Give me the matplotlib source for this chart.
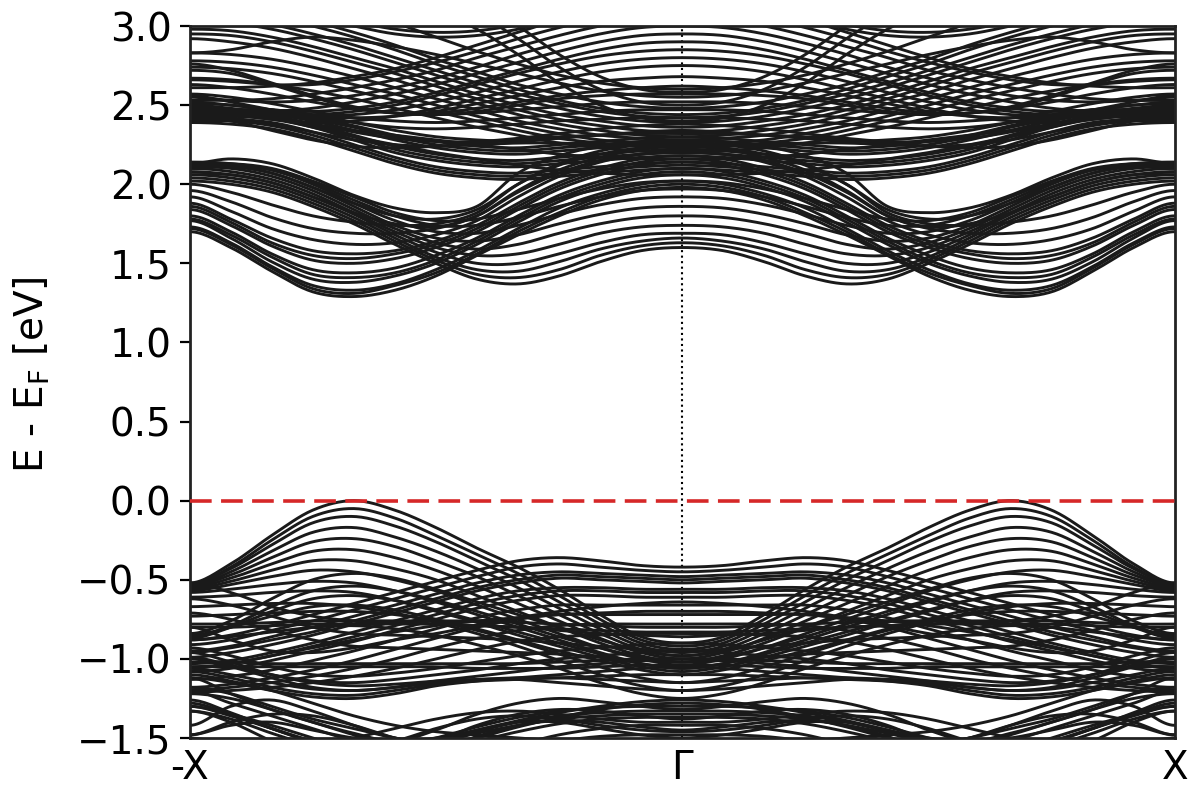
import numpy as np
import matplotlib
matplotlib.use("Agg")
import matplotlib.pyplot as plt

# ---------------- data (energies in eV) ----------------
# Each band is listed at 13 k-points from Gamma (k=0) to X (k=1), step 1/12.
# The path -X -> Gamma -> X is symmetric, so the left half mirrors the right.
K_TICKS = [-1.0, 0.0, 1.0]
K_LABELS = ["-X", "\u0393", "X"]
Y_TICKS = [-1.5, -1.0, -0.5, 0.0, 0.5, 1.0, 1.5, 2.0, 2.5, 3.0]
E_FERMI = 0.0

# valence: fan of bands peaking near k = 2/3
VAL_FAN = [
    [-0.90, -0.86, -0.72, -0.56, -0.42, -0.30, -0.17, -0.06, 0.00, -0.06, -0.22, -0.40, -0.52],
    [-0.92, -0.88, -0.75, -0.60, -0.46, -0.34, -0.22, -0.11, -0.05, -0.10, -0.25, -0.42, -0.53],
    [-0.94, -0.90, -0.78, -0.64, -0.50, -0.38, -0.26, -0.16, -0.10, -0.14, -0.28, -0.43, -0.53],
    [-0.96, -0.92, -0.81, -0.68, -0.55, -0.43, -0.32, -0.23, -0.17, -0.20, -0.32, -0.45, -0.54],
    [-0.98, -0.94, -0.84, -0.72, -0.60, -0.48, -0.38, -0.29, -0.24, -0.26, -0.36, -0.47, -0.54],
    [-1.00, -0.96, -0.87, -0.76, -0.65, -0.54, -0.44, -0.36, -0.31, -0.32, -0.40, -0.49, -0.55],
    [-1.02, -0.98, -0.90, -0.80, -0.70, -0.60, -0.50, -0.43, -0.38, -0.38, -0.44, -0.51, -0.56],
    [-1.04, -1.00, -0.93, -0.84, -0.75, -0.66, -0.57, -0.50, -0.45, -0.44, -0.48, -0.53, -0.57],
    [-1.06, -1.03, -0.96, -0.88, -0.80, -0.72, -0.64, -0.57, -0.52, -0.51, -0.53, -0.56, -0.58],
    [-1.08, -1.05, -0.99, -0.92, -0.85, -0.77, -0.70, -0.63, -0.58, -0.57, -0.58, -0.60, -0.61],
    [-1.20, -1.17, -1.10, -1.01, -0.92, -0.84, -0.77, -0.71, -0.67, -0.65, -0.65, -0.66, -0.67],
    [-1.15, -1.12, -1.05, -0.97, -0.89, -0.82, -0.76, -0.72, -0.70, -0.70, -0.71, -0.72, -0.73],
    [-1.25, -1.22, -1.15, -1.06, -0.98, -0.91, -0.85, -0.81, -0.79, -0.80, -0.83, -0.86, -0.88],
]
# valence: flat near Gamma, falling towards X
VAL_DOME = [
    [-0.42, -0.41, -0.38, -0.36, -0.38, -0.44, -0.51, -0.58, -0.65, -0.72, -0.79, -0.85, -0.88],
    [-0.45, -0.44, -0.42, -0.40, -0.42, -0.48, -0.55, -0.62, -0.69, -0.76, -0.82, -0.88, -0.91],
    [-0.48, -0.47, -0.46, -0.45, -0.47, -0.52, -0.59, -0.66, -0.73, -0.80, -0.86, -0.92, -0.95],
    [-0.50, -0.49, -0.48, -0.47, -0.50, -0.55, -0.62, -0.69, -0.76, -0.83, -0.88, -0.93, -0.96],
    [-0.52, -0.51, -0.50, -0.49, -0.52, -0.57, -0.64, -0.71, -0.78, -0.85, -0.91, -0.96, -0.99],
    [-0.56, -0.56, -0.55, -0.55, -0.57, -0.62, -0.69, -0.76, -0.83, -0.90, -0.96, -1.01, -1.03],
    [-0.58, -0.58, -0.57, -0.57, -0.60, -0.65, -0.72, -0.79, -0.86, -0.92, -0.98, -1.03, -1.05],
    [-0.61, -0.61, -0.60, -0.60, -0.63, -0.68, -0.75, -0.82, -0.89, -0.95, -1.01, -1.06, -1.08],
    [-0.66, -0.66, -0.66, -0.66, -0.69, -0.74, -0.81, -0.88, -0.95, -1.01, -1.07, -1.11, -1.13],
    [-0.72, -0.72, -0.72, -0.72, -0.75, -0.80, -0.87, -0.94, -1.01, -1.07, -1.12, -1.16, -1.18],
    [-0.78, -0.78, -0.78, -0.79, -0.82, -0.87, -0.93, -1.00, -1.06, -1.11, -1.15, -1.18, -1.20],
    [-0.84, -0.84, -0.85, -0.86, -0.89, -0.94, -1.00, -1.06, -1.11, -1.15, -1.18, -1.20, -1.21],
]
# valence: lower arches
VAL_ARCH = [
    [-0.98, -0.95, -0.88, -0.80, -0.72, -0.64, -0.56, -0.49, -0.46, -0.50, -0.62, -0.76, -0.84],
    [-1.02, -0.99, -0.93, -0.86, -0.78, -0.70, -0.63, -0.57, -0.54, -0.57, -0.67, -0.79, -0.86],
    [-1.06, -1.03, -0.97, -0.90, -0.83, -0.76, -0.69, -0.63, -0.60, -0.62, -0.70, -0.80, -0.87],
    [-1.10, -1.07, -1.01, -0.95, -0.88, -0.81, -0.75, -0.69, -0.66, -0.67, -0.73, -0.80, -0.85],
]
# valence: nearly flat bands
VAL_FLAT = [
    [-0.80, -0.80, -0.79, -0.78, -0.77, -0.76, -0.76, -0.76, -0.76, -0.76, -0.77, -0.78, -0.78],
    [-0.83, -0.83, -0.82, -0.81, -0.80, -0.79, -0.78, -0.78, -0.78, -0.78, -0.79, -0.80, -0.80],
    [-1.00, -1.00, -1.01, -1.02, -1.03, -1.03, -1.03, -1.03, -1.03, -1.03, -1.03, -1.02, -1.02],
    [-1.04, -1.04, -1.05, -1.06, -1.06, -1.06, -1.05, -1.05, -1.05, -1.05, -1.05, -1.05, -1.05],
]
# valence: bands crossing near X
VAL_XCROSS = [
    [-0.86, -0.85, -0.84, -0.82, -0.80, -0.79, -0.78, -0.77, -0.76, -0.73, -0.67, -0.58, -0.52],
    [-0.95, -0.94, -0.92, -0.90, -0.88, -0.87, -0.86, -0.85, -0.84, -0.80, -0.73, -0.66, -0.62],
    [-1.02, -1.01, -0.99, -0.97, -0.96, -0.95, -0.94, -0.93, -0.92, -0.88, -0.82, -0.75, -0.71],
    [-0.64, -0.65, -0.67, -0.70, -0.74, -0.79, -0.84, -0.88, -0.93, -0.96, -0.95, -0.88, -0.80],
    [-0.70, -0.70, -0.71, -0.72, -0.74, -0.76, -0.79, -0.83, -0.88, -0.93, -0.98, -1.03, -1.06],
]
# valence: bottom of the upper valence block
VAL_BOTTOM = [
    [-1.05, -1.06, -1.08, -1.10, -1.12, -1.14, -1.17, -1.22, -1.25, -1.24, -1.20, -1.15, -1.12],
    [-1.00, -1.01, -1.03, -1.05, -1.08, -1.11, -1.14, -1.18, -1.20, -1.19, -1.15, -1.10, -1.06],
    [-0.95, -0.96, -0.98, -1.00, -1.03, -1.07, -1.10, -1.13, -1.15, -1.14, -1.10, -1.04, -0.99],
    [-0.90, -0.91, -0.93, -0.95, -0.98, -1.02, -1.06, -1.09, -1.11, -1.10, -1.05, -0.98, -0.93],
    [-1.10, -1.10, -1.11, -1.12, -1.13, -1.14, -1.16, -1.20, -1.23, -1.22, -1.18, -1.12, -1.08],
    [-1.15, -1.14, -1.13, -1.12, -1.12, -1.13, -1.15, -1.18, -1.20, -1.18, -1.12, -1.05, -1.00],
    [-1.20, -1.19, -1.17, -1.15, -1.13, -1.13, -1.14, -1.16, -1.17, -1.15, -1.10, -1.02, -0.96],
]
# valence: deep block below -1.2 eV
VAL_LOW = [
    [-1.32, -1.30, -1.27, -1.25, -1.28, -1.35, -1.45, -1.52, -1.47, -1.40, -1.32, -1.22, -1.12],
    [-1.38, -1.36, -1.33, -1.32, -1.35, -1.42, -1.52, -1.58, -1.52, -1.44, -1.36, -1.28, -1.20],
    [-1.45, -1.43, -1.40, -1.39, -1.42, -1.49, -1.58, -1.65, -1.58, -1.50, -1.42, -1.35, -1.30],
    [-1.50, -1.48, -1.44, -1.40, -1.40, -1.45, -1.52, -1.50, -1.42, -1.33, -1.26, -1.30, -1.42],
    [-1.42, -1.42, -1.44, -1.48, -1.54, -1.58, -1.56, -1.50, -1.42, -1.36, -1.35, -1.40, -1.48],
    [-1.28, -1.29, -1.32, -1.37, -1.43, -1.50, -1.56, -1.60, -1.58, -1.52, -1.44, -1.36, -1.30],
    [-1.35, -1.35, -1.36, -1.38, -1.42, -1.47, -1.53, -1.58, -1.60, -1.55, -1.47, -1.38, -1.33],
    [-1.26, -1.27, -1.30, -1.34, -1.39, -1.45, -1.50, -1.52, -1.50, -1.45, -1.40, -1.42, -1.48],
    [-1.30, -1.30, -1.31, -1.33, -1.37, -1.43, -1.50, -1.56, -1.60, -1.62, -1.60, -1.55, -1.50],
    [-1.40, -1.40, -1.38, -1.35, -1.33, -1.34, -1.38, -1.44, -1.50, -1.55, -1.58, -1.58, -1.56],
    [-1.33, -1.33, -1.34, -1.36, -1.40, -1.46, -1.54, -1.62, -1.66, -1.62, -1.52, -1.40, -1.33],
    [-1.46, -1.45, -1.42, -1.38, -1.36, -1.38, -1.44, -1.52, -1.56, -1.52, -1.44, -1.34, -1.26],
    [-1.48, -1.48, -1.49, -1.52, -1.56, -1.60, -1.60, -1.55, -1.48, -1.40, -1.32, -1.25, -1.22],
    [-1.37, -1.37, -1.38, -1.41, -1.46, -1.52, -1.58, -1.62, -1.60, -1.53, -1.44, -1.35, -1.28],
    [-1.60, -1.58, -1.55, -1.52, -1.50, -1.48, -1.46, -1.42, -1.36, -1.28, -1.20, -1.14, -1.10],
    [-1.58, -1.57, -1.56, -1.55, -1.55, -1.55, -1.54, -1.50, -1.44, -1.38, -1.30, -1.22, -1.18],
]
# conduction: fan with minima near k = 2/3
COND_FAN = [
    [1.98, 1.96, 1.90, 1.80, 1.68, 1.55, 1.42, 1.33, 1.29, 1.32, 1.45, 1.60, 1.70],
    [2.00, 1.98, 1.92, 1.82, 1.70, 1.56, 1.44, 1.36, 1.31, 1.34, 1.47, 1.62, 1.72],
    [2.02, 2.00, 1.94, 1.85, 1.72, 1.58, 1.46, 1.37, 1.33, 1.36, 1.48, 1.63, 1.73],
    [2.06, 2.04, 1.98, 1.89, 1.76, 1.62, 1.50, 1.42, 1.38, 1.40, 1.51, 1.66, 1.77],
    [2.08, 2.06, 2.00, 1.91, 1.78, 1.64, 1.52, 1.44, 1.41, 1.43, 1.54, 1.68, 1.78],
    [2.10, 2.08, 2.02, 1.93, 1.80, 1.66, 1.55, 1.47, 1.44, 1.46, 1.56, 1.70, 1.80],
    [2.14, 2.12, 2.06, 1.97, 1.84, 1.70, 1.60, 1.53, 1.50, 1.52, 1.61, 1.74, 1.84],
    [2.16, 2.14, 2.08, 1.99, 1.86, 1.72, 1.62, 1.56, 1.53, 1.55, 1.63, 1.76, 1.86],
    [2.18, 2.16, 2.10, 2.01, 1.88, 1.74, 1.64, 1.58, 1.56, 1.58, 1.66, 1.78, 1.88],
    [2.21, 2.19, 2.14, 2.05, 1.92, 1.77, 1.68, 1.63, 1.62, 1.65, 1.72, 1.83, 1.92],
    [2.24, 2.22, 2.17, 2.09, 1.96, 1.80, 1.72, 1.69, 1.69, 1.72, 1.79, 1.89, 1.96],
    [2.27, 2.25, 2.21, 2.13, 2.00, 1.82, 1.75, 1.74, 1.76, 1.80, 1.87, 1.95, 2.00],
    [2.20, 2.19, 2.15, 2.07, 1.95, 1.80, 1.73, 1.75, 1.82, 1.92, 2.01, 2.06, 2.06],
    [2.24, 2.23, 2.19, 2.12, 2.00, 1.84, 1.78, 1.80, 1.88, 1.98, 2.07, 2.11, 2.10],
    [2.28, 2.27, 2.24, 2.18, 2.07, 1.86, 1.82, 1.85, 1.93, 2.04, 2.13, 2.16, 2.13],
]
# conduction: bands with minima near k = 1/3
COND_DIP = [
    [1.60, 1.58, 1.51, 1.42, 1.37, 1.40, 1.50, 1.62, 1.75, 1.86, 1.95, 2.00, 2.02],
    [1.63, 1.61, 1.55, 1.46, 1.41, 1.43, 1.52, 1.64, 1.77, 1.88, 1.97, 2.02, 2.04],
    [1.66, 1.64, 1.59, 1.51, 1.45, 1.46, 1.54, 1.66, 1.79, 1.90, 1.99, 2.04, 2.06],
    [1.69, 1.68, 1.63, 1.56, 1.50, 1.50, 1.57, 1.68, 1.81, 1.92, 2.01, 2.06, 2.08],
    [1.74, 1.73, 1.69, 1.62, 1.56, 1.55, 1.60, 1.70, 1.82, 1.94, 2.03, 2.08, 2.10],
    [1.80, 1.79, 1.75, 1.69, 1.62, 1.59, 1.63, 1.72, 1.84, 1.96, 2.05, 2.10, 2.11],
    [1.86, 1.85, 1.81, 1.75, 1.68, 1.64, 1.66, 1.74, 1.86, 1.98, 2.07, 2.12, 2.13],
    [1.92, 1.91, 1.87, 1.81, 1.74, 1.69, 1.70, 1.77, 1.88, 2.00, 2.09, 2.13, 2.14],
    [1.97, 1.96, 1.92, 1.86, 1.79, 1.74, 1.74, 1.80, 1.90, 2.01, 2.09, 2.12, 2.12],
    [2.02, 2.01, 1.97, 1.91, 1.84, 1.78, 1.77, 1.82, 1.92, 2.02, 2.10, 2.13, 2.13],
]
# conduction: dense belt at the bottom of the upper block
COND_BELT = [
    [2.10, 2.09, 2.07, 2.05, 2.03, 2.04, 2.07, 2.13, 2.21, 2.29, 2.35, 2.38, 2.39],
    [2.12, 2.11, 2.09, 2.07, 2.05, 2.06, 2.09, 2.15, 2.23, 2.31, 2.37, 2.40, 2.40],
    [2.14, 2.13, 2.11, 2.09, 2.07, 2.08, 2.11, 2.17, 2.25, 2.33, 2.39, 2.41, 2.41],
    [2.18, 2.17, 2.15, 2.13, 2.11, 2.12, 2.15, 2.20, 2.28, 2.36, 2.41, 2.43, 2.42],
    [2.20, 2.19, 2.17, 2.15, 2.13, 2.14, 2.17, 2.22, 2.30, 2.37, 2.42, 2.43, 2.43],
    [2.22, 2.21, 2.19, 2.17, 2.15, 2.16, 2.19, 2.24, 2.31, 2.38, 2.43, 2.44, 2.43],
    [2.26, 2.25, 2.23, 2.21, 2.19, 2.20, 2.23, 2.28, 2.34, 2.40, 2.44, 2.45, 2.44],
    [2.28, 2.27, 2.25, 2.23, 2.21, 2.22, 2.25, 2.30, 2.36, 2.41, 2.45, 2.46, 2.45],
    [2.30, 2.29, 2.27, 2.25, 2.23, 2.24, 2.27, 2.31, 2.37, 2.42, 2.45, 2.46, 2.45],
    [2.34, 2.33, 2.31, 2.29, 2.27, 2.28, 2.30, 2.34, 2.39, 2.44, 2.47, 2.47, 2.46],
    [2.24, 2.24, 2.25, 2.26, 2.26, 2.25, 2.24, 2.25, 2.28, 2.33, 2.38, 2.42, 2.44],
    [2.32, 2.32, 2.31, 2.30, 2.28, 2.26, 2.24, 2.23, 2.24, 2.28, 2.34, 2.40, 2.43],
    [2.38, 2.37, 2.35, 2.32, 2.29, 2.27, 2.27, 2.29, 2.33, 2.38, 2.43, 2.47, 2.48],
    [2.16, 2.16, 2.17, 2.19, 2.22, 2.25, 2.28, 2.31, 2.34, 2.38, 2.42, 2.45, 2.47],
    [2.06, 2.06, 2.07, 2.09, 2.12, 2.16, 2.20, 2.25, 2.30, 2.36, 2.42, 2.46, 2.49],
    [2.42, 2.42, 2.41, 2.40, 2.38, 2.36, 2.35, 2.36, 2.39, 2.43, 2.47, 2.50, 2.51],
    [2.47, 2.47, 2.46, 2.44, 2.42, 2.40, 2.39, 2.40, 2.42, 2.46, 2.51, 2.55, 2.57],
    [2.52, 2.52, 2.51, 2.49, 2.47, 2.45, 2.44, 2.45, 2.48, 2.52, 2.57, 2.61, 2.63],
]
# conduction: bands falling from X towards Gamma
COND_FALL = [
    [2.30, 2.31, 2.34, 2.38, 2.44, 2.51, 2.58, 2.66, 2.73, 2.80, 2.86, 2.90, 2.92],
    [2.33, 2.34, 2.37, 2.41, 2.47, 2.54, 2.62, 2.70, 2.77, 2.84, 2.90, 2.94, 2.95],
    [2.36, 2.37, 2.40, 2.44, 2.50, 2.57, 2.65, 2.73, 2.80, 2.87, 2.93, 2.97, 2.98],
    [2.39, 2.40, 2.43, 2.48, 2.54, 2.61, 2.69, 2.77, 2.85, 2.92, 2.98, 3.02, 3.03],
    [2.42, 2.43, 2.46, 2.51, 2.57, 2.64, 2.72, 2.80, 2.88, 2.95, 3.01, 3.05, 3.06],
    [2.44, 2.45, 2.48, 2.53, 2.60, 2.68, 2.76, 2.85, 2.93, 3.00, 3.06, 3.10, 3.11],
    [2.48, 2.49, 2.52, 2.57, 2.63, 2.71, 2.79, 2.88, 2.96, 3.03, 3.09, 3.13, 3.14],
    [2.60, 2.61, 2.64, 2.69, 2.76, 2.84, 2.93, 3.02, 3.10, 3.17, 3.22, 3.25, 3.26],
    [2.28, 2.29, 2.31, 2.35, 2.40, 2.47, 2.54, 2.61, 2.68, 2.74, 2.79, 2.82, 2.83],
    [2.25, 2.26, 2.28, 2.32, 2.37, 2.43, 2.50, 2.57, 2.63, 2.69, 2.74, 2.77, 2.78],
    [2.23, 2.24, 2.26, 2.29, 2.34, 2.40, 2.46, 2.53, 2.59, 2.65, 2.70, 2.73, 2.74],
    [2.20, 2.21, 2.23, 2.26, 2.31, 2.36, 2.42, 2.48, 2.54, 2.59, 2.63, 2.66, 2.67],
    [2.55, 2.56, 2.59, 2.64, 2.70, 2.76, 2.82, 2.87, 2.91, 2.93, 2.90, 2.85, 2.83],
]
# conduction: bands rising from X towards Gamma
COND_RISE = [
    [2.95, 2.94, 2.90, 2.84, 2.77, 2.70, 2.63, 2.57, 2.52, 2.48, 2.46, 2.45, 2.45],
    [2.90, 2.89, 2.85, 2.79, 2.72, 2.65, 2.58, 2.52, 2.48, 2.46, 2.47, 2.50, 2.52],
    [3.05, 3.04, 3.00, 2.94, 2.87, 2.80, 2.72, 2.66, 2.61, 2.57, 2.54, 2.53, 2.53],
    [3.00, 2.99, 2.95, 2.89, 2.82, 2.74, 2.67, 2.61, 2.56, 2.53, 2.52, 2.53, 2.55],
    [2.85, 2.84, 2.81, 2.76, 2.70, 2.63, 2.56, 2.50, 2.46, 2.44, 2.45, 2.48, 2.50],
    [2.80, 2.79, 2.76, 2.71, 2.65, 2.58, 2.52, 2.47, 2.44, 2.43, 2.44, 2.46, 2.48],
    [2.75, 2.74, 2.71, 2.66, 2.60, 2.54, 2.48, 2.43, 2.40, 2.39, 2.41, 2.44, 2.46],
    [2.68, 2.67, 2.65, 2.61, 2.56, 2.51, 2.46, 2.43, 2.42, 2.43, 2.47, 2.52, 2.56],
    [3.15, 3.14, 3.10, 3.04, 2.96, 2.88, 2.80, 2.73, 2.68, 2.64, 2.62, 2.61, 2.61],
    [3.10, 3.09, 3.05, 2.99, 2.92, 2.84, 2.77, 2.71, 2.66, 2.63, 2.63, 2.65, 2.66],
    [2.62, 2.61, 2.59, 2.56, 2.52, 2.48, 2.45, 2.45, 2.48, 2.55, 2.63, 2.70, 2.72],
    [2.57, 2.57, 2.56, 2.54, 2.50, 2.46, 2.44, 2.45, 2.49, 2.56, 2.64, 2.72, 2.76],
]
# conduction: bands entering from above the window
COND_TOP = [
    [3.20, 3.18, 3.12, 3.05, 2.98, 2.94, 2.93, 2.95, 3.00, 3.06, 3.12, 3.16, 3.18],
    [3.25, 3.22, 3.16, 3.08, 3.01, 2.97, 2.96, 2.98, 3.03, 3.10, 3.16, 3.20, 3.22],
    [2.40, 2.42, 2.50, 2.64, 2.82, 2.98, 3.10, 3.18, 3.22, 3.24, 3.25, 3.25, 3.25],
    [2.50, 2.52, 2.60, 2.74, 2.92, 3.08, 3.20, 3.28, 3.30, 3.30, 3.30, 3.30, 3.30],
    [2.58, 2.60, 2.68, 2.82, 3.00, 3.15, 3.25, 3.30, 3.32, 3.32, 3.32, 3.32, 3.32],
]

BAND_GROUPS = [VAL_FAN, VAL_DOME, VAL_ARCH, VAL_FLAT, VAL_XCROSS, VAL_BOTTOM, VAL_LOW,
               COND_FAN, COND_DIP, COND_BELT, COND_FALL, COND_RISE, COND_TOP]


def band_path(half):
    """Mirror a Gamma->X band onto -X->Gamma->X and draw it as a smooth
    cubic Hermite curve through the listed points."""
    half = np.asarray(half, dtype=float)
    y = np.concatenate([half[::-1], half[1:]])
    n = y.size
    k = np.linspace(-1.0, 1.0, n)
    h = k[1] - k[0]
    m = np.zeros(n)
    m[1:-1] = (y[2:] - y[:-2]) / (2 * h)
    t = np.linspace(0.0, 1.0, 17)[:-1]
    h00 = 2 * t**3 - 3 * t**2 + 1
    h10 = t**3 - 2 * t**2 + t
    h01 = -2 * t**3 + 3 * t**2
    h11 = t**3 - t**2
    xs, ys = [], []
    for i in range(n - 1):
        xs.append(k[i] + t * h)
        ys.append(h00 * y[i] + h10 * h * m[i] + h01 * y[i + 1] + h11 * h * m[i + 1])
    xs.append([k[-1]])
    ys.append([y[-1]])
    return np.concatenate(xs), np.concatenate(ys)


plt.rcParams["font.family"] = ["DejaVu Sans"]
plt.rcParams["mathtext.fontset"] = "dejavusans"

fig = plt.figure(figsize=(12, 8), dpi=100)
ax = fig.add_axes([0.158, 0.0775, 0.821, 0.89])

BAND_COLOR = "#1a1a1a"
for group in BAND_GROUPS:
    for band in group:
        kx, ey = band_path(band)
        ax.plot(kx, ey, color=BAND_COLOR, lw=2.1, solid_capstyle="round", zorder=2)

ax.axvline(0.0, color="black", ls=":", lw=1.5, zorder=1)
ax.axhline(E_FERMI, color="#d62728", ls="--", lw=2.6, dashes=(6, 2.6), zorder=5)

ax.set_xlim(K_TICKS[0], K_TICKS[-1])
ax.set_ylim(Y_TICKS[0], Y_TICKS[-1])
ax.set_xticks(K_TICKS)
ax.set_xticklabels(K_LABELS)
ax.set_yticks(Y_TICKS)

ax.tick_params(axis="y", labelsize=28, length=7, width=1.6, pad=6)
ax.tick_params(axis="x", labelsize=28, length=0, pad=8)
for s in ax.spines.values():
    s.set_linewidth(2.0)
    s.set_color("#222222")

ax.set_ylabel("E - E$_\\mathrm{F}$ [eV]", fontsize=28)
ax.yaxis.set_label_coords(-0.14, 0.51)

fig.savefig("out.png", dpi=100)
